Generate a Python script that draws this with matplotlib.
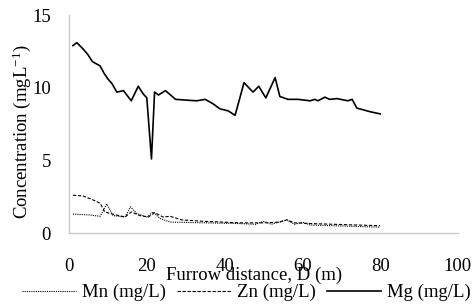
import matplotlib
matplotlib.use('Agg')
import matplotlib.pyplot as plt

plt.rcParams['font.family'] = ['Liberation Serif', 'DejaVu Serif']
plt.rcParams['mathtext.default'] = 'regular'

# Mg (mg/L) along the furrow
mg_x = [1, 2, 3.5, 4.8, 6, 8, 9, 10, 11, 12.3, 14, 16, 17.8, 19, 20, 21.2, 22, 23, 24.8,
        27.4, 30, 32.8, 35, 37, 38.8, 41, 42.7, 45, 47.3, 48.8, 50.6, 53, 54.2, 56.3,
        58.9, 62, 63.2, 64, 65.8, 67, 68.9, 71.7, 72.8, 74, 77.4, 80]
mg_y = [12.9, 13.1, 12.7, 12.3, 11.8, 11.5, 11.0, 10.6, 10.3, 9.7, 9.8, 9.1, 10.1, 9.6, 9.3,
        5.1, 9.7, 9.5, 9.8, 9.2, 9.15, 9.1, 9.2, 8.9, 8.55, 8.4, 8.1, 10.35, 9.7, 10.1,
        9.3, 10.7, 9.4, 9.2, 9.2, 9.1, 9.2, 9.1, 9.35, 9.2, 9.25, 9.1, 9.2, 8.6, 8.35, 8.2]

# Zn (mg/L)
zn_x = [1, 3.6, 6, 8, 9.2, 10.5, 14.4, 16, 18.2, 20.4, 22, 24.2, 26, 29, 35, 44, 50, 54,
        56, 58, 62, 68, 74, 80]
zn_y = [2.6, 2.55, 2.3, 2.05, 1.45, 1.35, 1.1, 1.45, 1.2, 1.1, 1.4, 1.1, 1.15, 0.9, 0.8,
        0.7, 0.7, 0.75, 0.9, 0.7, 0.65, 0.6, 0.55, 0.5]

# Mn (mg/L)
mn_x = [1, 5, 8, 9.7, 11.3, 14.4, 15.8, 17.4, 20, 21.6, 23.4, 26, 35, 44, 48, 50, 52,
        56, 58, 60, 62, 68, 74, 80]
mn_y = [1.3, 1.25, 1.15, 2.0, 1.2, 1.1, 1.8, 1.35, 1.1, 1.45, 1.0, 0.75, 0.7, 0.65, 0.6,
        0.8, 0.6, 0.9, 0.6, 0.75, 0.55, 0.5, 0.45, 0.4]

fig = plt.figure(figsize=(4.77, 3.08), dpi=100)
ax = fig.add_axes([0.1447, 0.2435, 0.8153, 0.7075])

ax.plot(mn_x, mn_y, color='black', linestyle=(0, (1, 1)), linewidth=0.8, label='Mn (mg/L)')
ax.plot(zn_x, zn_y, color='black', linestyle=(0, (3, 1.5)), linewidth=0.8, label='Zn (mg/L)')
ax.plot(mg_x, mg_y, color='black', linestyle='-', linewidth=1.2, label='Mg (mg/L)')

ax.set_xlim(0, 100)
ax.set_ylim(0, 15)
ax.set_xticks([0, 20, 40, 60, 80, 100])
ax.set_yticks([0, 5, 10, 15])
ax.tick_params(axis='both', length=0, labelsize=13.5)
ax.tick_params(axis='x', pad=18)
ax.tick_params(axis='y', pad=13)
for s in ['top', 'right']:
    ax.spines[s].set_visible(False)
for s in ['left', 'bottom']:
    ax.spines[s].set_color('#c8c8c8')
    ax.spines[s].set_linewidth(1.0)

ax.set_xlabel('Furrow distance, D (m)', fontsize=13.5)
ax.xaxis.set_label_coords(0.476, -0.155)
ax.set_ylabel('Concentration (mgL$^{-1}$)', fontsize=13.5)
ax.yaxis.set_label_coords(-0.092, 0.466)

fig.legend(loc='center', bbox_to_anchor=(0.516, 0.05), ncol=3, frameon=False,
           fontsize=13.5, handlelength=2.9, columnspacing=0.6, handletextpad=0.3)

fig.savefig('out.png', dpi=100)
